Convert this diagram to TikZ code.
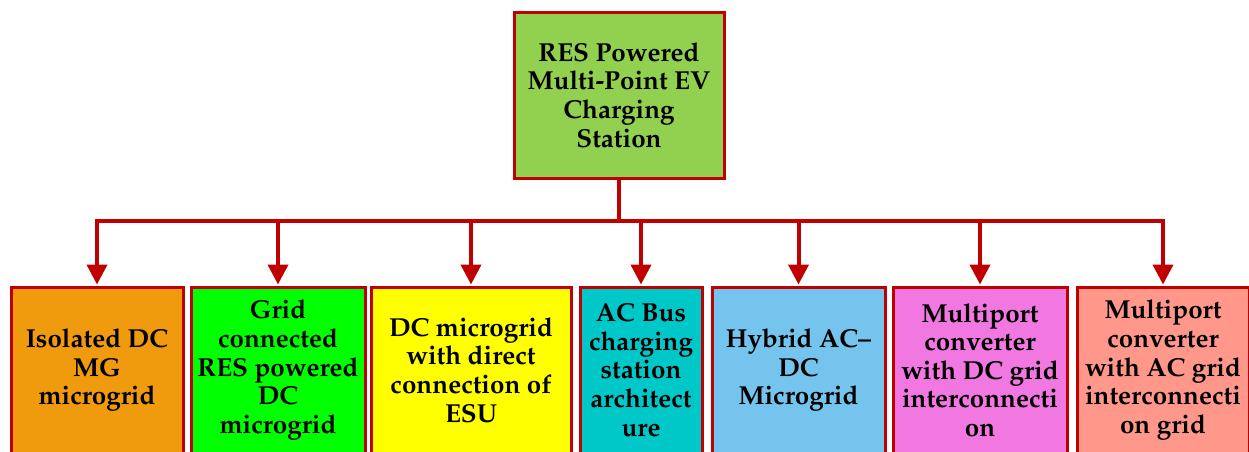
\documentclass[tikz,border=0pt]{standalone}
\usepackage[T1]{fontenc}
\usepackage{mathpazo}
\usetikzlibrary{arrows.meta}
\definecolor{bord}{HTML}{C00000}
\definecolor{ctop}{HTML}{92D050}
\definecolor{cone}{HTML}{F09A0E}
\definecolor{ctwo}{HTML}{00FF00}
\definecolor{cthree}{HTML}{FFFF00}
\definecolor{cfour}{HTML}{00C8C8}
\definecolor{cfive}{HTML}{74C4EE}
\definecolor{csix}{HTML}{F078E0}
\definecolor{cseven}{HTML}{FF988A}
\tikzset{
  boxst/.style={draw=bord, line width=3pt, rectangle, minimum height=166pt, inner sep=0pt, align=center,
    font=\fontsize{26}{28.6}\selectfont\bfseries},
  linkst/.style={draw=bord, line width=4pt},
  arrst/.style={draw=bord, line width=4pt, -{Triangle[width=20pt,length=20pt]}}
}
\begin{document}
\begin{tikzpicture}[x=1pt,y=-1pt]
\useasboundingbox (0,0) rectangle (1249,451);
\clip (0,0) rectangle (1249,451);
\node[boxst, fill=ctop, minimum width=210pt] (top) at (619,95) {RES Powered\\Multi-Point EV\\Charging\\Station};
\node[boxst, fill=cone, minimum width=172pt] (b1) at (97,370) {Isolated DC\\MG\\microgrid};
\node[boxst, fill=ctwo, minimum width=174pt] (b2) at (278,370) {Grid\\connected\\RES powered\\DC\\microgrid};
\node[boxst, fill=cthree, minimum width=200pt] (b3) at (471,370) {DC microgrid\\with direct\\connection of\\ESU};
\node[boxst, fill=cfour, minimum width=122pt] (b4) at (641,370) {AC Bus\\charging\\station\\architect\\ure};
\node[boxst, fill=cfive, minimum width=173pt] (b5) at (798.5,370) {Hybrid AC--\\DC\\Microgrid};
\node[boxst, fill=csix, minimum width=174pt] (b6) at (980,370) {Multiport\\converter\\with DC grid\\interconnecti\\on};
\node[boxst, fill=cseven, minimum width=172pt] (b7) at (1163,370) {Multiport\\converter\\with AC grid\\interconnecti\\on grid};
\coordinate (j) at (619,221);
\draw[linkst] (top.south) -- (j);
\draw[linkst, line cap=rect] (b1.north |- j) -- (b7.north |- j);
\foreach \b in {b1,b2,b3,b4,b5,b6,b7}{
  \draw[arrst] (\b.north |- j) -- ([yshift=1pt]\b.north);
}
\end{tikzpicture}
\end{document}
